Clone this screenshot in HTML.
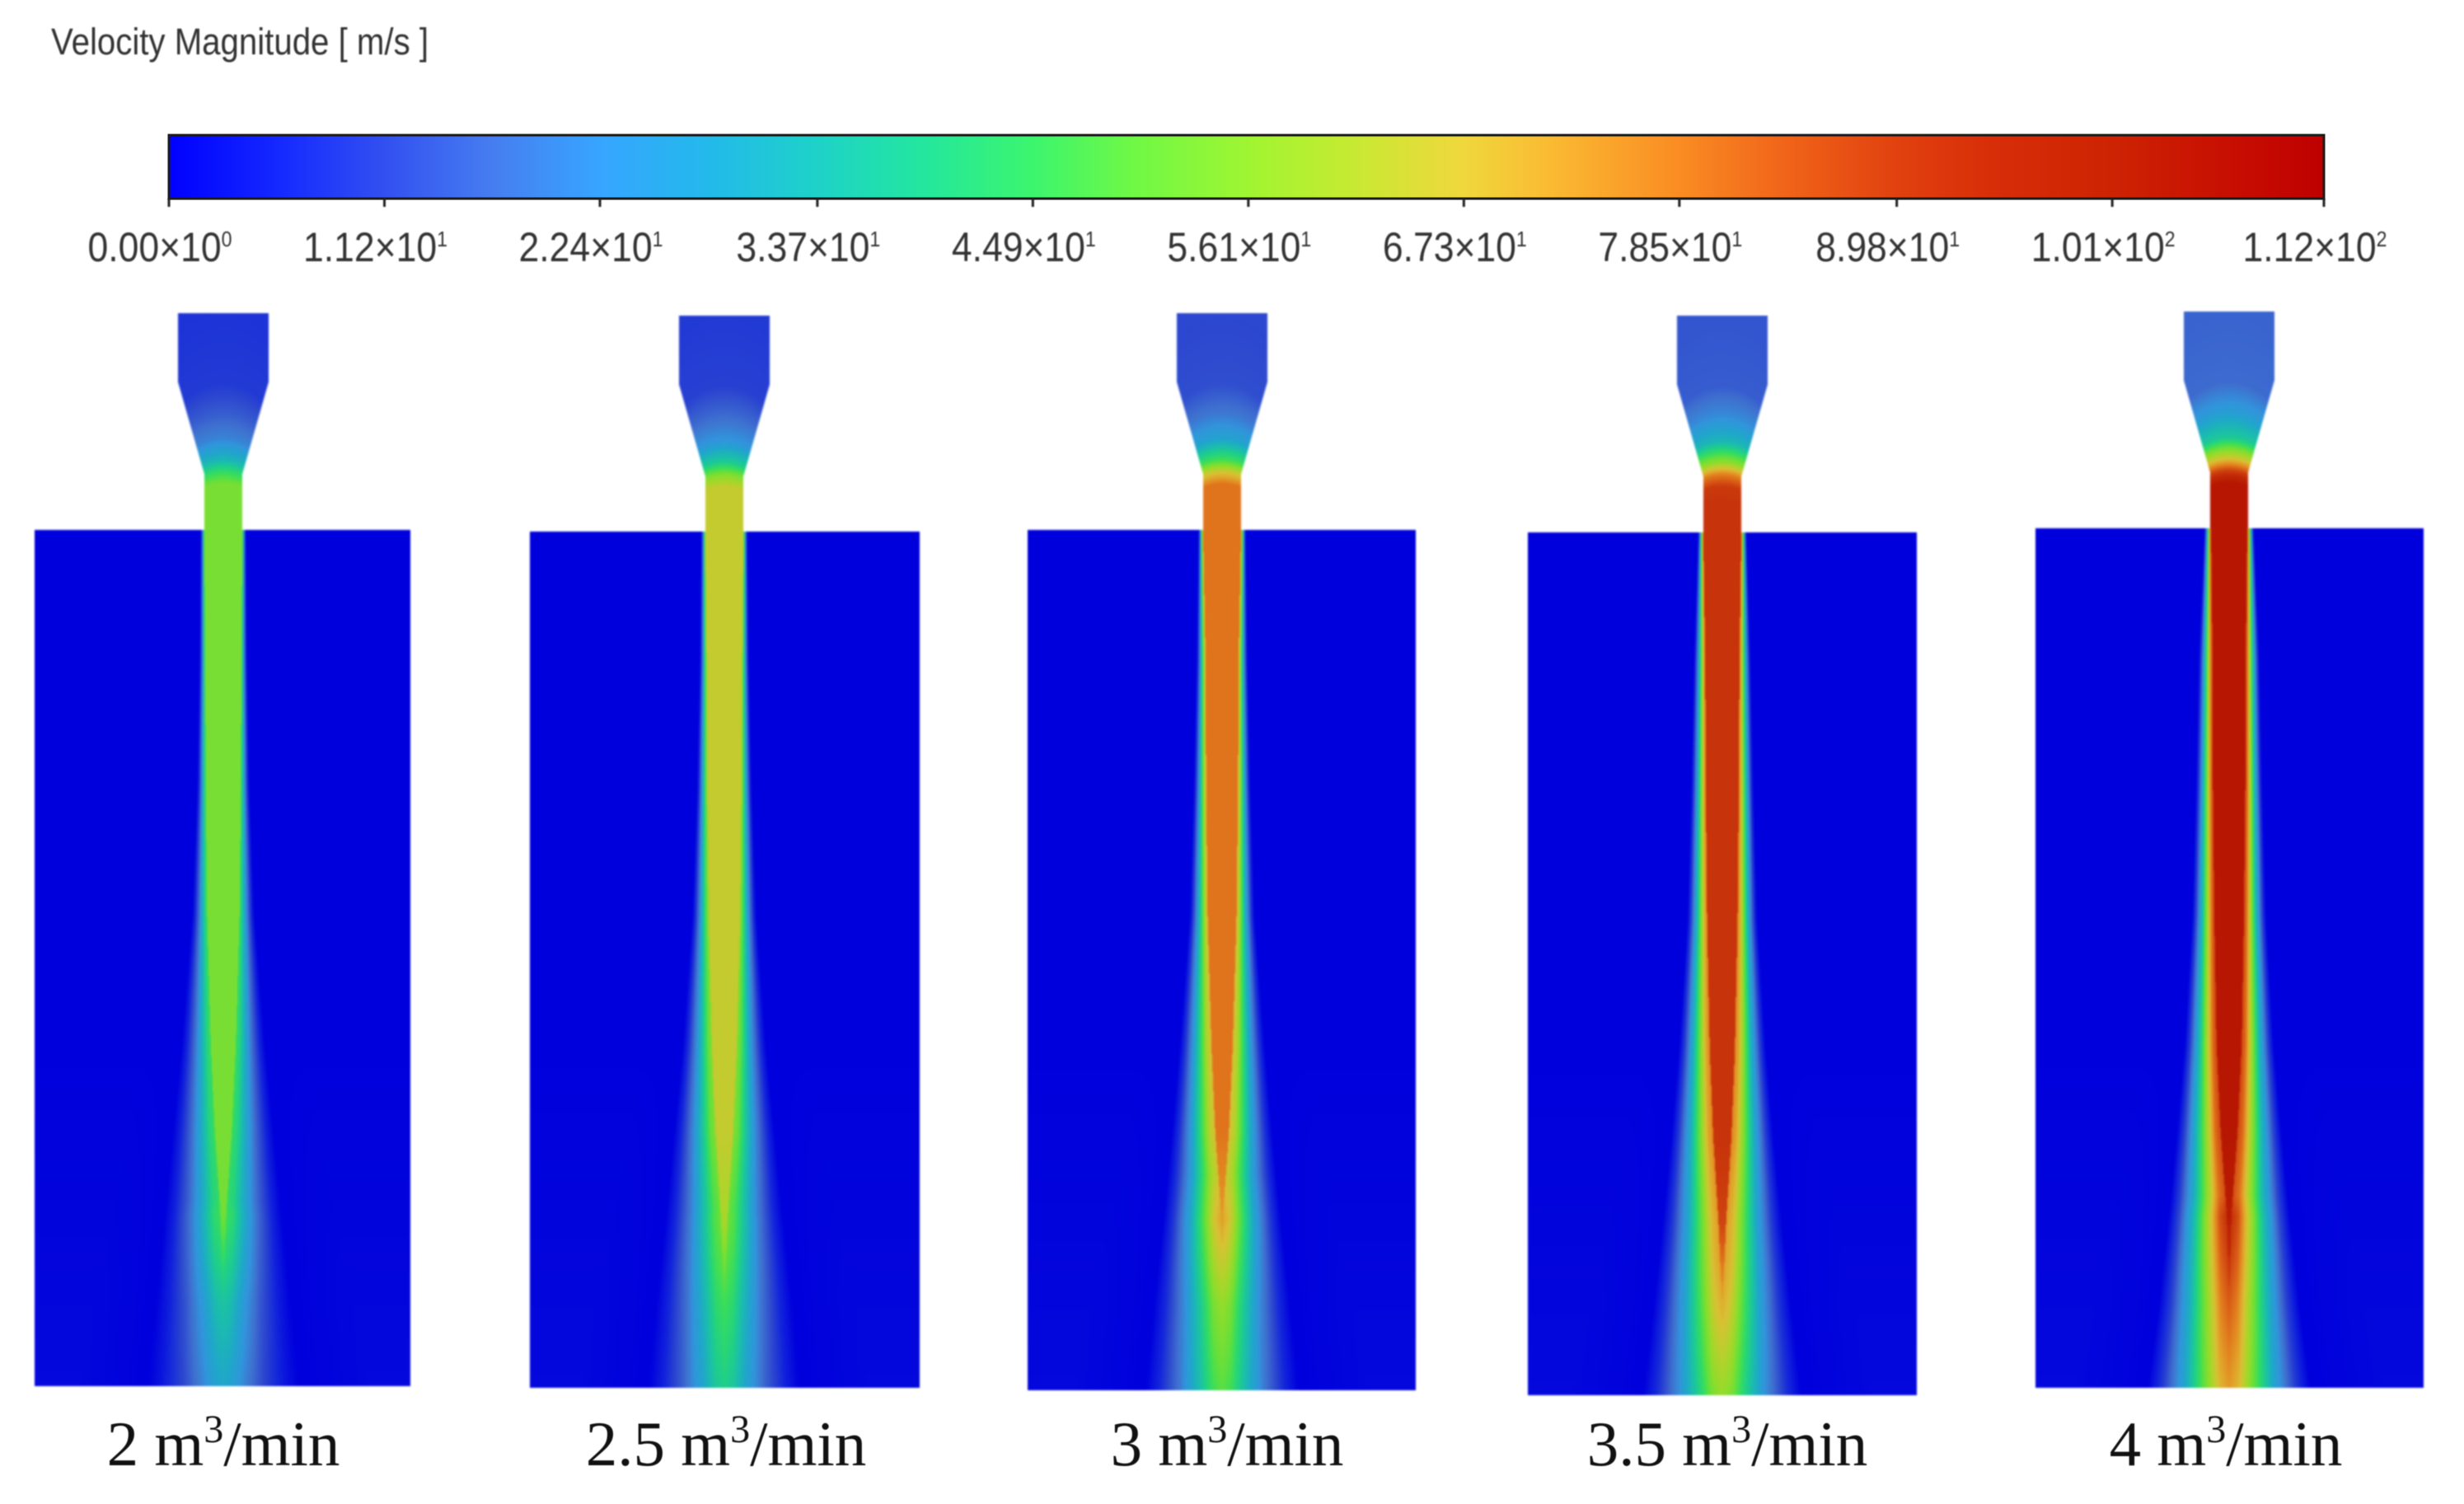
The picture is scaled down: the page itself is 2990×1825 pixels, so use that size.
<!DOCTYPE html>
<html lang="en">
<head>
<meta charset="utf-8">
<title>Velocity Magnitude Contours</title>
<style>
html,body{margin:0;padding:0;background:#fff;}
#stage{position:relative;width:2990px;height:1825px;overflow:hidden;background:#fff;}
#stage canvas{position:absolute;filter:blur(1px);}
#overlay{position:absolute;left:0;top:0;}
#overlay text{white-space:pre;}
</style>
</head>
<body>
<div id="stage">
<svg id="overlay" width="2990" height="1825" viewBox="0 0 2990 1825" xmlns="http://www.w3.org/2000/svg">
  <defs><linearGradient id="barGrad" x1="0" x2="1" y1="0" y2="0"></linearGradient></defs>
  <text id="legendTitle" x="62" y="66" font-family="'Liberation Sans',sans-serif" font-size="45" fill="#333" textLength="458" lengthAdjust="spacingAndGlyphs" style="filter:blur(.7px)">Velocity Magnitude [ m/s ]</text>
  <rect id="barRect" x="205" y="164" width="2615" height="77" fill="url(#barGrad)" stroke="#1c1c1c" stroke-width="3"></rect>
  <g id="barTicks" style="filter:blur(.7px)"></g>
  <g id="captions" style="filter:blur(.5px)"></g>
</svg>
</div>
<script>
/* colour scale */
const scaleValues = [0,5.6,11.2,16.8,22.4,28,33.7,39,44.9,50,56.1,61,67.3,72,78.5,84,89.8,95,101,107,112];
const scaleReds   = [0,20,50,70,55,35,30,35,60,110,160,195,240,250,250,240,225,215,205,200,190];
const scaleGreens = [0,40,80,125,165,185,210,230,245,248,245,235,215,185,140,100,65,45,35,15,0];
const scaleBlues  = [255,255,240,240,255,235,200,160,110,70,50,50,60,50,35,25,15,8,3,2,0];

/* colour-bar ticks */
const tickValues = [0,11.2,22.4,33.7,44.9,56.1,67.3,78.5,89.8,101,112];
const tickMantissas = ["0.00","1.12","2.24","3.37","4.49","5.61","6.73","7.85","8.98","1.01","1.12"];
const tickExponents = ["0","1","1","1","1","1","1","1","1","2","2"];

/* flow rates */
const flowRates = ["2","2.5","3","3.5","4"];

/* chamber rows, fraction of chamber height from the top */
const jetRows = [0,0.15,0.3,0.45,0.6,0.7,0.8,0.9,1];
/* jet speed on the axis, m/s, per flow rate */
const jetSpeed2   = [53,53,53,53,53,53,52,36,28];
const jetSpeed25  = [64,64,64,64,64,64,60,46,39];
const jetSpeed3   = [80,80,80,80,80,80,74,57,49];
const jetSpeed35  = [92,92,92,92,92,92,88,70,57];
const jetSpeed4   = [104,104,104,104,104,104,102,84,74];
/* potential-core half width, in nozzle throat half-widths */
const coreWidth2  = [1,0.95,0.92,0.85,0.66,0.45,0.15,0,0];
const coreWidth25 = [1,0.93,0.9,0.83,0.66,0.47,0.18,0,0];
const coreWidth3  = [1,0.87,0.84,0.76,0.56,0.36,0.03,0,0];
const coreWidth35 = [1,0.9,0.87,0.8,0.66,0.48,0.2,0,0];
const coreWidth4  = [0.95,0.87,0.85,0.78,0.66,0.45,0.12,0,0];
/* shear-layer half width, in nozzle throat half-widths */
const spreadWidth2  = [1.2,1.26,1.38,1.65,2.2,2.65,3.1,3.55,4.0];
const spreadWidth25 = [1.22,1.3,1.45,1.7,2.2,2.65,3.1,3.6,4.0];
const spreadWidth3  = [1.25,1.35,1.5,1.72,2.25,2.65,3.1,3.6,4.05];
const spreadWidth35 = [1.28,1.5,1.65,1.85,2.3,2.7,3.15,3.65,4.2];
const spreadWidth4  = [1.3,1.6,1.75,1.95,2.35,2.75,3.2,3.7,4.3];
/* faint recirculation speed away from the jet, m/s */
const ambientSpeed = [0,0,0,0,0,0.3,0.6,1,1.2];
/* shear-layer fall-off: normalised distance and speed fraction */
const profileDistance = [0,0.12,0.27,0.54,0.82,1];
const profileFraction = [1,0.93,0.72,0.38,0.12,0];

/* nozzle rows, distance below nozzle inlet as a fraction of nozzle length */
const nozzleRows = [0,0.435,0.62,0.78,0.91,0.985,1.06,1.17];
const nozzleSpeed2  = [8,9,14,20,32,44,53,53];
const nozzleSpeed25 = [9,10,16,23,38,54,64,64];
const nozzleSpeed3  = [11,12,18,27,46,66,80,80];
const nozzleSpeed35 = [13,14,21,32,56,78,90,92];
const nozzleSpeed4  = [15,16,25,37,66,88,104,104];

const jetSpeeds = [jetSpeed2,jetSpeed25,jetSpeed3,jetSpeed35,jetSpeed4];
const coreWidths = [coreWidth2,coreWidth25,coreWidth3,coreWidth35,coreWidth4];
const spreadWidths = [spreadWidth2,spreadWidth25,spreadWidth3,spreadWidth35,spreadWidth4];
const nozzleSpeeds = [nozzleSpeed2,nozzleSpeed25,nozzleSpeed3,nozzleSpeed35,nozzleSpeed4];

/* figure layout */
function panelLayout(i){
  const L=[
    {left:42,right:498,top:643,bottom:1682,cx:271,nozzleTop:380,capX:271},
    {left:643,right:1116,top:645,bottom:1684,cx:879,nozzleTop:383,capX:881},
    {left:1247,right:1718,top:643,bottom:1687,cx:1483,nozzleTop:380,capX:1489},
    {left:1854,right:2326,top:646,bottom:1693,cx:2090,nozzleTop:383,capX:2096},
    {left:2470,right:2941,top:641,bottom:1684,cx:2705,nozzleTop:378,capX:2701}
  ];
  return L[i];
}
const THROAT=23, INLET=55, SHOULDER=83, NOZZLE_LEN=195, EDGE_DROP=0.16;

function lookup(xs,ys,x){
  if(x<=xs[0])return ys[0];
  for(let k=1;k<xs.length;k++){
    if(x<=xs[k]){const f=(x-xs[k-1])/(xs[k]-xs[k-1]);return ys[k-1]+f*(ys[k]-ys[k-1]);}
  }
  return ys[ys.length-1];
}
function colorOf(v){
  return [lookup(scaleValues,scaleReds,v),lookup(scaleValues,scaleGreens,v),lookup(scaleValues,scaleBlues,v)];
}
const SHADE=[0.9,0.9,0.863];

/* colour bar */
const barX0=205, barX1=2820, svgNS="http://www.w3.org/2000/svg";
function barX(v){return barX0+(v/112)*(barX1-barX0);}
const grad=document.getElementById('barGrad');
scaleValues.forEach((v,k)=>{
  const s=document.createElementNS(svgNS,'stop');
  s.setAttribute('offset',(v/112));
  s.setAttribute('stop-color','rgb('+scaleReds[k]+','+scaleGreens[k]+','+scaleBlues[k]+')');
  grad.appendChild(s);
});
const tickLayer=document.getElementById('barTicks');
tickValues.forEach((v,k)=>{
  const x=barX(v);
  const t=document.createElementNS(svgNS,'line');
  
  
  t.setAttribute('x1',x);t.setAttribute('x2',x);t.setAttribute('y1',241);t.setAttribute('y2',251);
  t.setAttribute('stroke','#222');t.setAttribute('stroke-width','3');
  tickLayer.appendChild(t);
  const lab=document.createElementNS(svgNS,'text');
  
  
  lab.setAttribute('transform','translate('+(x-11)+',317) scale(0.89,1)');
  lab.setAttribute('text-anchor','middle');
  lab.setAttribute('font-family',"'Liberation Sans',sans-serif");
  lab.setAttribute('font-size','50');
  lab.setAttribute('fill','#333');
  lab.appendChild(document.createTextNode(tickMantissas[k]+'×10'));
  const sup=document.createElementNS(svgNS,'tspan');
  sup.setAttribute('dy','-18');
  sup.setAttribute('font-size','26');
  sup.textContent=tickExponents[k];
  lab.appendChild(sup);
  tickLayer.appendChild(lab);
});

/* flow-rate captions */
const capLayer=document.getElementById('captions');
flowRates.forEach((q,i)=>{
  const c=document.createElementNS(svgNS,'text');
  
  
  c.setAttribute('x',panelLayout(i).capX);c.setAttribute('y',1778);
  c.setAttribute('text-anchor','middle');
  c.setAttribute('font-family',"'Liberation Serif',serif");
  c.setAttribute('font-size','77');
  c.setAttribute('fill','#111');
  c.appendChild(document.createTextNode(q+' m'));
  const s3=document.createElementNS(svgNS,'tspan');
  s3.setAttribute('dy','-28');s3.setAttribute('font-size','48');s3.textContent='3';
  c.appendChild(s3);
  const rest=document.createElementNS(svgNS,'tspan');
  rest.setAttribute('dy','28');rest.textContent='/min';
  c.appendChild(rest);
  capLayer.appendChild(c);
});

/* contour panels */
const stage=document.getElementById('stage');
flowRates.forEach((q,i)=>{
  const p=panelLayout(i);
  const W=p.right-p.left, H=p.bottom-p.nozzleTop;
  const cv=document.createElement('canvas');
  
  
  cv.width=W;cv.height=H;
  cv.style.left=p.left+'px';cv.style.top=p.nozzleTop+'px';
  stage.insertBefore(cv,stage.firstChild);
  const ctx=cv.getContext('2d');
  const img=ctx.createImageData(W,H);
  const d=img.data;
  const chamberH=p.bottom-p.top;
  for(let yy=0;yy<H;yy++){
    const y=p.nozzleTop+yy;
    const inChamber=y>=p.top;
    const t=(y-p.top)/chamberH;
    const C=lookup(jetRows,jetSpeeds[i],t);
    const core=lookup(jetRows,coreWidths[i],t);
    const spread=lookup(jetRows,spreadWidths[i],t);
    const amb=lookup(jetRows,ambientSpeed,t);
    const drop=EDGE_DROP*Math.min(1,core/0.2);
    const localNeck=yy<SHOULDER?INLET:(yy<NOZZLE_LEN?INLET+(THROAT-INLET)*(yy-SHOULDER)/(NOZZLE_LEN-SHOULDER):THROAT);
    for(let xx=0;xx<W;xx++){
      const x=p.left+xx+0.5;
      const dx=Math.abs(x-p.cx);
      let v, alpha=1;
      const nozzleVal=lookup(nozzleRows,nozzleSpeeds[i],(yy-dx*dx*0.009)/NOZZLE_LEN);
      const inTube=dx<=localNeck+0.5;
      if(inChamber){
        const u=dx/THROAT;
        if(u<=core){v=C;}
        else{
          const s=Math.min(1,(u-core)/Math.max(0.01,spread-core));
          v=C*(1-drop)*lookup(profileDistance,profileFraction,s);
        }
        const ramp=Math.max(0,Math.min(1,(u-spread*1.1)/(spread*0.8)));
        v=Math.max(v,amb*ramp);
        if(u<=1 && yy<NOZZLE_LEN*1.17){v=Math.max(v,Math.min(C,nozzleVal));}
      }else{
        if(!inTube)continue;
        v=nozzleVal;
        alpha=Math.min(1,localNeck+0.5-dx);
      }
      const col=colorOf(v);
      const o=(yy*W+xx)*4;
      d[o]=col[0]*SHADE[0];d[o+1]=col[1]*SHADE[1];d[o+2]=col[2]*SHADE[2];d[o+3]=255*alpha;
    }
  }
  ctx.putImageData(img,0,0);
});
</script>
</body>
</html>
